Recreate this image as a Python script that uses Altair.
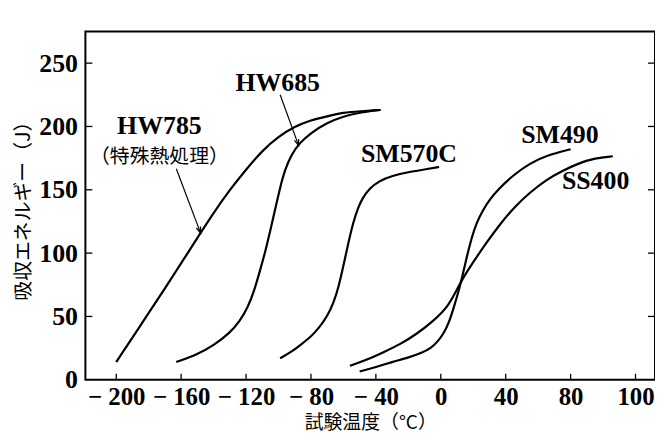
import altair as alt
import pandas as pd

# ---- data ----
hw785_x = [-200, -185, -170, -155, -140, -130, -120, -110, -100, -90, -80, -70, -60, -50, -37]
hw785_y = [14, 43, 72, 102, 132, 150, 166, 181, 192, 200, 205, 208, 211, 212, 213]

hw685_x = [-163, -150, -140, -130, -124, -119, -115, -111, -108, -105, -102, -99, -96, -92, -87, -80, -70, -60, -50, -38]
hw685_y = [14, 20, 27, 37, 46, 57, 70, 88, 102, 118, 135, 152, 166, 178, 187, 195, 203, 208, 211, 213]

sm570c_x = [-99, -92, -86, -80, -75, -70, -66, -63, -60, -57, -54, -51, -48, -44, -38, -30, -20, -10, -1]
sm570c_y = [17, 22, 28, 34, 41, 50, 61, 73, 90, 108, 124, 136, 144, 151, 157, 161, 164, 166, 168]

sm490_x = [-50, -40, -30, -20, -12, -6, -2, 2, 5, 8, 11, 13, 16, 19, 22, 26, 30, 35, 45, 55, 65, 80]
sm490_y = [6.5, 10, 14, 17.5, 21, 25, 30, 37, 45, 57, 70, 80, 97, 112, 124, 134, 142, 150, 162, 171, 177, 182]

ss400_x = [-56, -45, -35, -25, -15, -5, 5, 12, 20, 28, 36, 45, 55, 65, 75, 85, 95, 106]
ss400_y = [11, 16, 22, 28, 36, 46, 58, 77, 93, 108, 122, 136, 148, 158, 165, 171, 175, 176.5]

series_names = ["HW785", "HW685", "SM570C", "SM490", "SS400"]
series_x = [hw785_x, hw685_x, sm570c_x, sm490_x, ss400_x]
series_y = [hw785_y, hw685_y, sm570c_y, sm490_y, ss400_y]

label_text = ["HW685", "HW785", "SM570C", "SM490", "SS400"]
label_x = [-100.5, -173.4, -19.6, 73.4, 95.4]
label_y = [234, 200.5, 178.4, 193.3, 157]

note_text = ["（特殊熱処理）"]
note_x = [-173.4]
note_y = [176]

arrow_x = [-99, -163]
arrow_y = [225, 166.6]
arrow_x2 = [-87.6, -148]
arrow_y2 = [184.9, 115.8]
arrow_angle = [340.3, 339.4]

x_ticks = [-200, -160, -120, -80, -40, 0, 40, 80, 120]
y_ticks = [0, 50, 100, 150, 200, 250]

W, H = 574, 351

rows = []
for name, xs, ys in zip(series_names, series_x, series_y):
    for i, (a, b) in enumerate(zip(xs, ys)):
        rows.append({"series": name, "order": i, "temp": a, "energy": b})
df = pd.DataFrame(rows)

labels_df = pd.DataFrame({"text": label_text, "temp": label_x, "energy": label_y})
notes_df = pd.DataFrame({"text": note_text, "temp": note_x, "energy": note_y})
arrows_df = pd.DataFrame({"temp": arrow_x, "energy": arrow_y, "temp2": arrow_x2,
                          "energy2": arrow_y2, "angle": arrow_angle})
xt_df = pd.DataFrame({"temp": x_ticks})
yt_df = pd.DataFrame({"energy": y_ticks[1:]})

xscale = alt.Scale(domain=[-219, 132], nice=False, zero=False)
yscale = alt.Scale(domain=[0, 275], nice=False, zero=False)

serif = "Liberation Serif"
cjk = "Noto Sans CJK JP"

x_axis = alt.Axis(
    values=x_ticks,
    labelExpr="datum.value == 120 ? '100' : (datum.value < 0 ? '\u2212 ' + abs(datum.value) : '' + datum.value)",
    ticks=False, domain=False, grid=False,
    labelFont=serif, labelFontWeight="bold", labelFontSize=25, labelColor="black",
    labelPadding=5, labelFlush=False,
    title="試験温度（°C）", titleFont=cjk, titleFontSize=19, titleFontWeight="normal",
    titleColor="black", titlePadding=4,
)
y_axis = alt.Axis(
    values=y_ticks, ticks=False, domain=False, grid=False,
    labelFont=serif, labelFontWeight="bold", labelFontSize=26, labelColor="black",
    labelPadding=8, labelFlush=False,
    title="吸収エネルギー（J）", titleFont=cjk, titleFontSize=20, titleFontWeight="normal",
    titleColor="black", titlePadding=5,
)

lines = alt.Chart(df).mark_line(color="black", strokeWidth=2.2, interpolate="basis").encode(
    x=alt.X("temp:Q", scale=xscale, axis=x_axis),
    y=alt.Y("energy:Q", scale=yscale, axis=y_axis),
    detail="series:N",
    order="order:Q",
)

labels = alt.Chart(labels_df).mark_text(
    font=serif, fontWeight="bold", fontSize=26, color="black", baseline="middle", align="center"
).encode(x=alt.X("temp:Q", scale=xscale), y=alt.Y("energy:Q", scale=yscale), text="text:N")

notes = alt.Chart(notes_df).mark_text(
    font=cjk, fontSize=20, color="black", baseline="middle", align="center"
).encode(x=alt.X("temp:Q", scale=xscale), y=alt.Y("energy:Q", scale=yscale), text="text:N")

arrow_lines = alt.Chart(arrows_df).mark_rule(color="black", strokeWidth=1.2).encode(
    x=alt.X("temp:Q", scale=xscale), y=alt.Y("energy:Q", scale=yscale),
    x2="temp2:Q", y2="energy2:Q",
)
arrow_heads = alt.Chart(arrows_df).mark_point(
    shape="M -0.35 -1 L 0 0 L 0.35 -1", filled=False, color="black", strokeWidth=1.2, size=160, opacity=1
).encode(
    x=alt.X("temp2:Q", scale=xscale), y=alt.Y("energy2:Q", scale=yscale),
    angle=alt.Angle("angle:Q", scale=None),
)

xticks_in = alt.Chart(xt_df).mark_rule(color="black", strokeWidth=1.3).encode(
    x=alt.X("temp:Q", scale=xscale), y=alt.value(H), y2=alt.value(H - 6)
)
yticks_left = alt.Chart(yt_df).mark_rule(color="black", strokeWidth=1.3).encode(
    y=alt.Y("energy:Q", scale=yscale), x=alt.value(0), x2=alt.value(7)
)
yticks_right = alt.Chart(yt_df).mark_rule(color="black", strokeWidth=1.3).encode(
    y=alt.Y("energy:Q", scale=yscale), x=alt.value(W), x2=alt.value(W - 7)
)

chart = alt.layer(
    lines, arrow_lines, arrow_heads, labels, notes, xticks_in, yticks_left, yticks_right
).properties(
    width=W, height=H,
    autosize=alt.AutoSizeParams(type="none"),
    padding={"left": 78, "top": 22, "right": 0, "bottom": 54},
    background="white",
).configure_view(stroke="black", strokeWidth=2)

chart.save("out.html", embed_options={"renderer": "svg", "actions": False})
